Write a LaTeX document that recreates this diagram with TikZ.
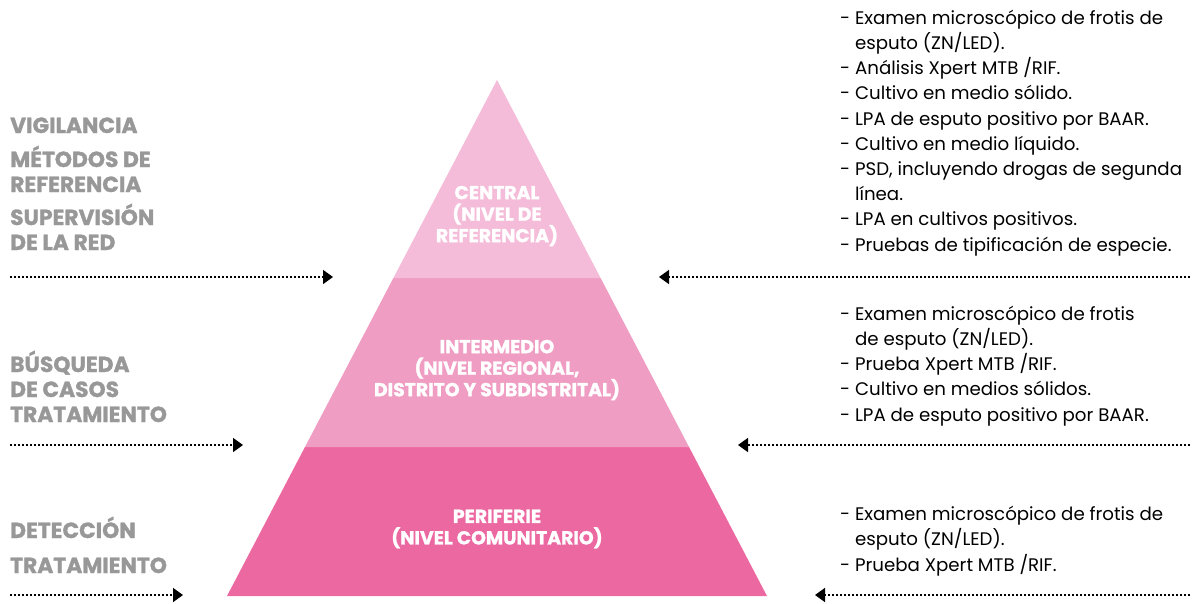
\documentclass[tikz,border=0pt]{standalone}
\usepackage{fontspec}
\setmainfont{Poppins}[BoldFeatures={FakeBold=1.3}]
\usetikzlibrary{arrows.meta}
\definecolor{pinktop}{RGB}{244,188,216}
\definecolor{pinkmid}{RGB}{240,157,195}
\definecolor{pinkbot}{RGB}{236,104,161}
\definecolor{labelgray}{RGB}{152,152,152}

\begin{document}
\begin{tikzpicture}[x=1pt,y=-1pt,
    level/.style={font=\bfseries\fontsize{18.8}{21.5}\selectfont, text=white, align=center},
    task/.style={font=\bfseries\fontsize{21.8}{25}\selectfont, text=labelgray, align=left, anchor=base west, inner sep=0pt},
    tests/.style={font=\fontsize{18.2}{25.2}\selectfont, align=left, anchor=base west, inner sep=0pt},
    flow/.style={line width=1.7pt, dash pattern=on 1.7pt off 2.3pt, -{Triangle[length=10pt,width=14pt]}}]
    \useasboundingbox (0,0) rectangle (1198,603);

    % Pyramid: apex, half base and band limits
    \pgfmathsetmacro{\Ax}{497}
    \pgfmathsetmacro{\Ay}{80}
    \pgfmathsetmacro{\slope}{270/516}
    \pgfmathsetmacro{\wA}{(278-\Ay)*\slope}
    \pgfmathsetmacro{\wB}{(447-\Ay)*\slope}
    \pgfmathsetmacro{\wC}{(596-\Ay)*\slope}

    % Draw the three bands
    \fill[pinkbot] (\Ax-\wB,447) -- (\Ax+\wB,447) -- (\Ax+\wC,596) -- (\Ax-\wC,596) -- cycle;
    \fill[pinkmid] (\Ax-\wA,278) -- (\Ax+\wA,278) -- (\Ax+\wB,447) -- (\Ax-\wB,447) -- cycle;
    \fill[pinktop] (\Ax,\Ay) -- (\Ax+\wA,278) -- (\Ax-\wA,278) -- cycle;

    \node[level] (central) at (497,216) {CENTRAL\\(NIVEL DE\\REFERENCIA)};
    \node[level] (intermedio) at (497,370) {INTERMEDIO\\(NIVEL REGIONAL,\\DISTRITO Y SUBDISTRITAL)};
    \node[level] (periferie) at (497,529) {PERIFERIE\\(NIVEL COMUNITARIO)};

    % Left side labels (placed at the baseline of their last line)
    \node[task] (vigilancia) at (10,133) {VIGILANCIA};
    \node[task] (metodos) at (10,192) {MÉTODOS DE\\REFERENCIA};
    \node[task] (supervision) at (10,250) {SUPERVISIÓN\\DE LA RED};
    \node[task] (busqueda) at (10,422) {BÚSQUEDA\\DE CASOS\\TRATAMIENTO};
    \node[task] (deteccion) at (10,538) {DETECCIÓN};
    \node[task] (tratamiento) at (10,573) {TRATAMIENTO};

    % Right side lists (placed at the baseline of their last line)
    \node[tests] (testsC) at (840,251) {- Examen microscópico de frotis de\\\phantom{- }esputo (ZN/LED).\\- Análisis Xpert MTB /RIF.\\- Cultivo en medio sólido.\\- LPA de esputo positivo por BAAR.\\- Cultivo en medio líquido.\\- PSD, incluyendo drogas de segunda\\\phantom{- }línea.\\- LPA en cultivos positivos.\\- Pruebas de tipificación de especie.};
    \node[tests] (testsI) at (840,421) {- Examen microscópico de frotis\\\phantom{- }de esputo (ZN/LED).\\- Prueba Xpert MTB /RIF.\\- Cultivo en medios sólidos.\\- LPA de esputo positivo por BAAR.};
    \node[tests] (testsP) at (840,571) {- Examen microscópico de frotis de\\\phantom{- }esputo (ZN/LED).\\- Prueba Xpert MTB /RIF.};

    % Dotted arrows
    \coordinate (inC) at (10,277);   \coordinate (tipInC) at (333,277);
    \coordinate (inI) at (10,445);   \coordinate (tipInI) at (243,445);
    \coordinate (inP) at (10,595);   \coordinate (tipInP) at (183,595);
    \coordinate (outC) at (1190,277); \coordinate (tipOutC) at (659,277);
    \coordinate (outI) at (1190,445); \coordinate (tipOutI) at (738,445);
    \coordinate (outP) at (1190,595); \coordinate (tipOutP) at (815,595);
    \draw[flow] (inC) -- (tipInC);
    \draw[flow] (inI) -- (tipInI);
    \draw[flow] (inP) -- (tipInP);
    \draw[flow] (outC) -- (tipOutC);
    \draw[flow] (outI) -- (tipOutI);
    \draw[flow] (outP) -- (tipOutP);
\end{tikzpicture}
\end{document}
